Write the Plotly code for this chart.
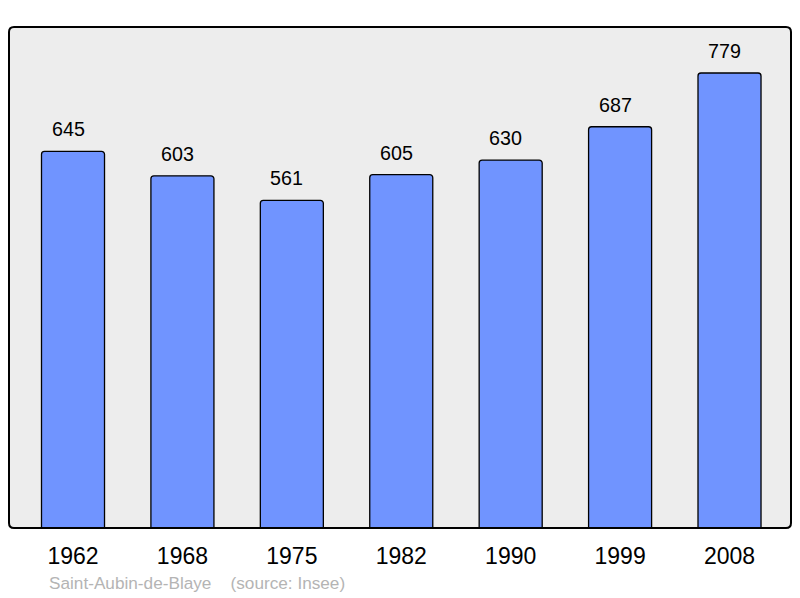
import plotly.graph_objects as go

years = ["1962", "1968", "1975", "1982", "1990", "1999", "2008"]
population = [645, 603, 561, 605, 630, 687, 779]
source_text = "Saint-Aubin-de-Blaye    (source: Insee)"

# page body has an 8px margin, so work in shifted pixel coordinates
OFF = 8
W, H = 800 - OFF, 598 - OFF
L, R, T, B = 9 - OFF, 791 - OFF, 27 - OFF, 528 - OFF
pw, ph = R - L, B - T

def px(x):
    return (x - OFF - L) / pw

def py(y):
    return (B - (y - OFF)) / ph

xs = list(range(len(years)))

fig = go.Figure()
fig.add_trace(go.Bar(
    x=xs, y=population, width=0.576,
    marker=dict(color="#7094FF", line=dict(color="black", width=1.3), cornerradius=3),
    hoverinfo="skip",
))

for x, v in zip(xs, population):
    fig.add_annotation(x=x, y=v, text=str(v), showarrow=False, yanchor="middle",
                       yshift=22, xshift=-5, font=dict(size=19.7, color="black"))

r = 5
def frame_path():
    x0, x1, y0, y1 = 0.0, 1.0, 0.0, 1.0
    rx, ry = r / pw, r / ph
    return (f"M {x0+rx},{y1} L {x1-rx},{y1} Q {x1},{y1} {x1},{y1-ry} "
            f"L {x1},{y0+ry} Q {x1},{y0} {x1-rx},{y0} L {x0+rx},{y0} "
            f"Q {x0},{y0} {x0},{y0+ry} L {x0},{y1-ry} Q {x0},{y1} {x0+rx},{y1} Z")

fig.add_shape(type="path", path=frame_path(), xref="paper", yref="paper",
              fillcolor="#EDEDED", line=dict(width=0), layer="below")
fig.add_shape(type="path", path=frame_path(), xref="paper", yref="paper",
              fillcolor="rgba(0,0,0,0)", line=dict(color="black", width=2), layer="above")

fig.add_annotation(x=px(47), y=py(583), xref="paper", yref="paper", text=source_text,
                   showarrow=False, xanchor="left", yanchor="middle",
                   font=dict(size=17.2, color="#B4B4B4"))

fig.update_layout(
    width=W, height=H,
    margin=dict(l=L, r=W - R, t=T, b=H - B, pad=0),
    paper_bgcolor="white", plot_bgcolor="rgba(0,0,0,0)",
    font=dict(family="Liberation Sans, Arial, sans-serif", color="black"),
    showlegend=False,
    xaxis=dict(range=[-0.585, 6.562], tickvals=xs, ticktext=years, showgrid=False,
               zeroline=False, showline=False, ticks="", tickfont=dict(size=23),
               ticklabelstandoff=12, fixedrange=True),
    yaxis=dict(range=[0, 857.8], showgrid=False, zeroline=False, showticklabels=False,
               showline=False, ticks="", fixedrange=True),
)

fig.write_html("out.html")
